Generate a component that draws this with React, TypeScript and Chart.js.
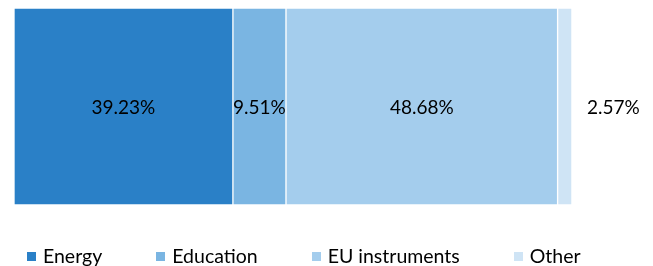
import React, { useEffect, useRef } from "react";
import { Chart, registerables } from "chart.js";

Chart.register(...registerables);

const categories: string[] = ["Energy", "Education", "EU instruments", "Other"];
const values: number[] = [39.23, 9.51, 48.68, 2.57];
const colors: string[] = ["#2A80C7", "#7AB5E2", "#A4CDED", "#CFE4F5"];

const FONT = "Lato, 'Open Sans', sans-serif";

const labelPlugin = {
  id: "segLabels",
  afterDatasetsDraw(chart: any) {
    const ctx = chart.ctx;
    ctx.save();
    ctx.font = `19px ${FONT}`;
    ctx.fillStyle = "#000";
    ctx.textBaseline = "middle";
    chart.data.datasets.forEach((ds: any, i: number) => {
      const meta = chart.getDatasetMeta(i);
      const el = meta.data[0];
      if (!el) return;
      const { x, y, base } = el.getProps(["x", "y", "base"], true);
      const txt = values[i].toFixed(2) + "%";
      const w = x - base;
      if (w < 30) {
        ctx.textAlign = "left";
        ctx.fillText(txt, x + 15, y + 1);
      } else {
        ctx.textAlign = "center";
        ctx.fillText(txt, (x + base) / 2, y + 1);
      }
    });
    ctx.restore();
  },
};

export default function App() {
  const ref = useRef<HTMLCanvasElement | null>(null);
  useEffect(() => {
    if (!ref.current) return;
    const chart = new Chart(ref.current, {
      type: "bar",
      data: {
        labels: [""],
        datasets: categories.map((c, i) => ({
          label: c,
          data: [values[i]],
          backgroundColor: colors[i],
          borderColor: "#ffffff",
          borderWidth: 1,
          borderSkipped: false,
          barPercentage: 1,
          categoryPercentage: 1,
        })),
      },
      options: {
        indexAxis: "y",
        animation: false,
        responsive: false,
        maintainAspectRatio: false,
        layout: { padding: { left: 14, right: 81, top: 8, bottom: 5 } },
        plugins: { legend: { display: false }, tooltip: { enabled: false } },
        scales: {
          x: { stacked: true, min: 0, max: 100, display: false },
          y: { stacked: true, display: false },
        },
      },
      plugins: [labelPlugin],
    } as any);
    return () => chart.destroy();
  }, []);

  return (
    <div style={{ position: "fixed", left: 0, top: 0, width: 653, height: 266, background: "#fff" }}>
      <canvas ref={ref} width={653} height={210} style={{ display: "block", width: 653, height: 210 }} />
      <div
        style={{
          position: "absolute",
          left: 27,
          top: 244,
          display: "flex",
          alignItems: "center",
          gap: 54,
          fontFamily: FONT,
          fontSize: 19.5,
          color: "#000",
          whiteSpace: "nowrap",
        }}
      >
        {categories.map((c, i) => (
          <div key={c} style={{ display: "flex", alignItems: "center" }}>
            <span style={{ display: "inline-block", width: 9, height: 9, background: colors[i], marginRight: 7 }} />
            <span style={{ lineHeight: "24px" }}>{c}</span>
          </div>
        ))}
      </div>
    </div>
  );
}
